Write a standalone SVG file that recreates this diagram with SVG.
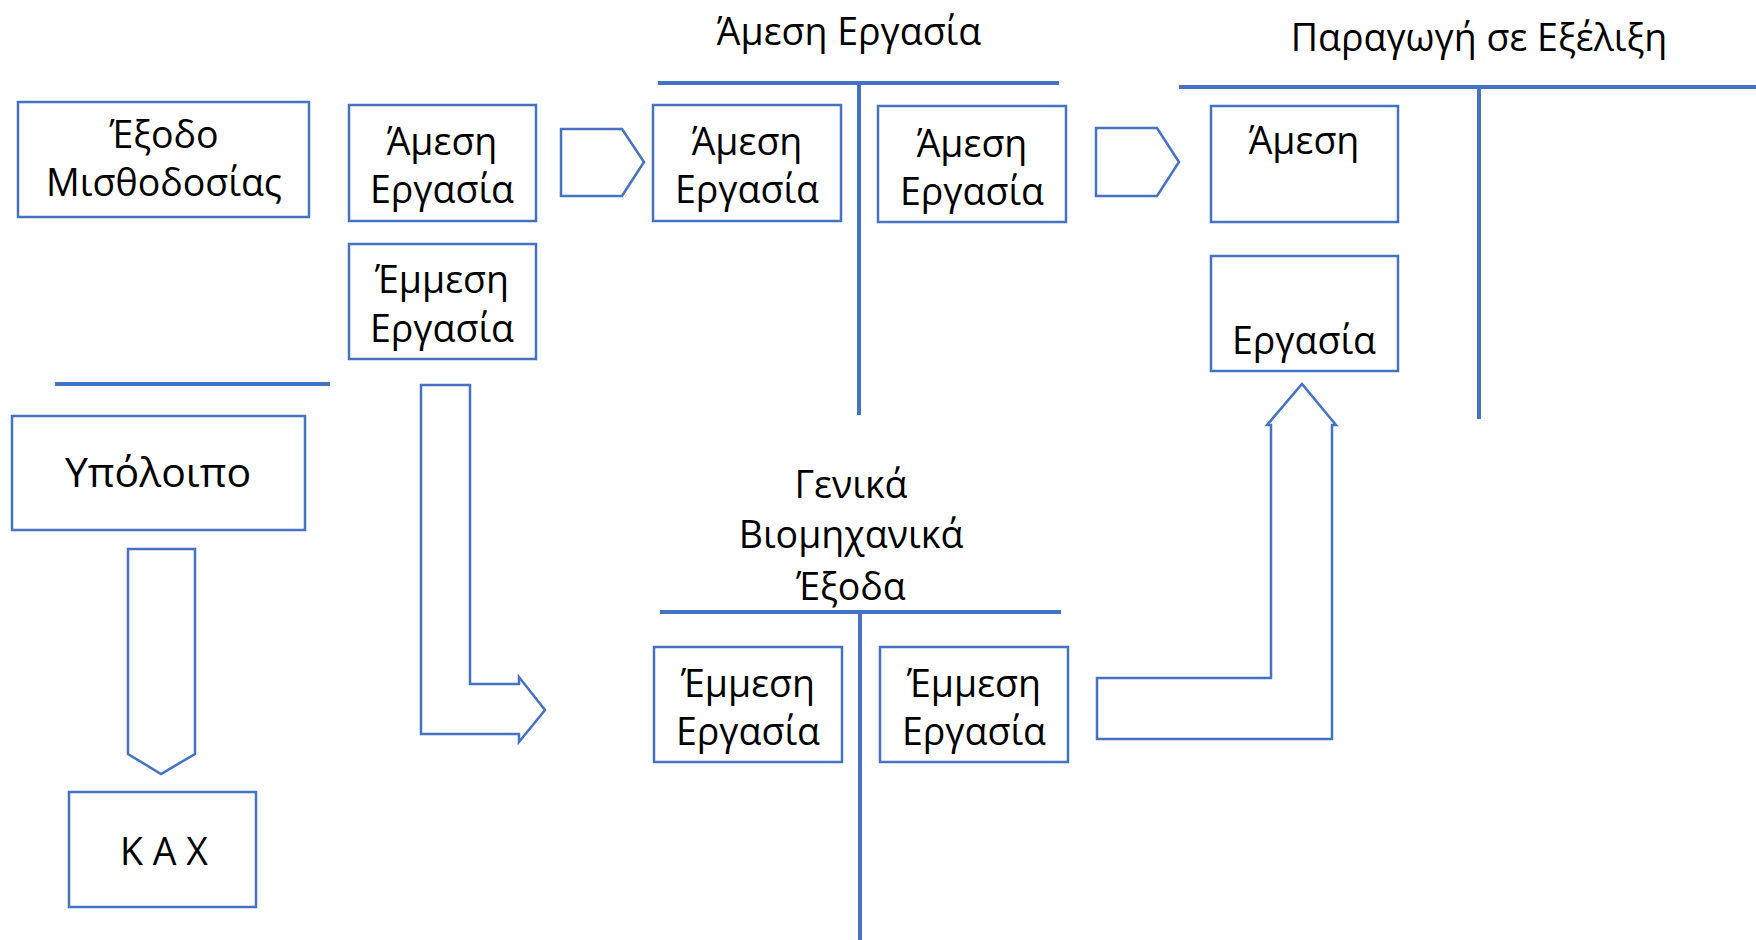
<svg xmlns="http://www.w3.org/2000/svg" width="1756" height="940" viewBox="0 0 1756 940">
<style>
  .box { fill: #ffffff; stroke: #4472C4; stroke-width: 2.5; }
  .arr { fill: #ffffff; stroke: #4472C4; stroke-width: 2.5; stroke-linejoin: miter; }
  .ln { stroke: #4472C4; stroke-width: 4; fill: none; }
  text { font-family: "Open Sans", "Noto Sans", "DejaVu Sans", sans-serif; font-size: 37.5px; fill: #000000; text-anchor: middle; }
</style>
<rect width="1756" height="940" fill="#ffffff"/>
<g id="connectors">
  <line class="ln" x1="55" y1="384" x2="330" y2="384"/>
  <line class="ln" x1="658" y1="83" x2="1059" y2="83"/>
  <line class="ln" x1="859" y1="83" x2="859" y2="415"/>
  <line class="ln" x1="1179" y1="87" x2="1756" y2="87"/>
  <line class="ln" x1="1479" y1="87" x2="1479" y2="419"/>
  <line class="ln" x1="660" y1="612" x2="1061" y2="612"/>
  <line class="ln" x1="860" y1="612" x2="860" y2="940"/>
  <polygon class="arr" points="561,129 622,129 644,162 622,196 561,196"/>
  <polygon class="arr" points="1096,128 1157,128 1179,162 1157,196 1096,196"/>
  <polygon class="arr" points="128,549 195,549 195,754 161,774 128,754"/>
  <polygon class="arr" points="421,385 470,385 470,684 519,684 519,677 545,710 519,742 519,734 421,734"/>
  <polygon class="arr" points="1097,678 1271,678 1271,425 1267,425 1302,384 1336,425 1332,425 1332,739 1097,739"/>
</g>
<g id="title-amesi">
  <text x="849" y="45">Άμεση Εργασία</text>
</g>
<g id="title-paragogi">
  <text x="1479" y="51">Παραγωγή σε Εξέλιξη</text>
</g>
<g id="title-genika">
  <text x="851" y="498">Γενικά</text>
  <text x="851" y="548">Βιομηχανικά</text>
  <text x="851" y="600">Έξοδα</text>
</g>
<g id="node-misthodosia">
  <rect class="box" x="18" y="102" width="291" height="115"/>
  <text x="164" y="148">Έξοδο</text>
  <text x="164" y="196">Μισθοδοσίας</text>
</g>
<g id="node-amesi-1">
  <rect class="box" x="349" y="105" width="187" height="116"/>
  <text x="442" y="155">Άμεση</text>
  <text x="442" y="203">Εργασία</text>
</g>
<g id="node-emmesi-1">
  <rect class="box" x="349" y="244" width="187" height="115"/>
  <text x="442" y="293">Έμμεση</text>
  <text x="442" y="342">Εργασία</text>
</g>
<g id="node-ypoloipo">
  <rect class="box" x="12" y="416" width="293" height="114"/>
  <text x="158" y="487" style="font-size:41px">Υπόλοιπο</text>
</g>
<g id="node-kax">
  <rect class="box" x="69" y="792" width="187" height="115"/>
  <text x="164" y="865">Κ Α Χ</text>
</g>
<g id="node-amesi-2">
  <rect class="box" x="653" y="105" width="188" height="116"/>
  <text x="747" y="155">Άμεση</text>
  <text x="747" y="203">Εργασία</text>
</g>
<g id="node-amesi-3">
  <rect class="box" x="878" y="106" width="188" height="116"/>
  <text x="972" y="157">Άμεση</text>
  <text x="972" y="205">Εργασία</text>
</g>
<g id="node-amesi-4">
  <rect class="box" x="1211" y="106" width="187" height="116"/>
  <text x="1304" y="154">Άμεση</text>
</g>
<g id="node-ergasia-4">
  <rect class="box" x="1211" y="256" width="187" height="115"/>
  <text x="1304" y="354">Εργασία</text>
</g>
<g id="node-emmesi-2">
  <rect class="box" x="654" y="647" width="188" height="115"/>
  <text x="748" y="697">Έμμεση</text>
  <text x="748" y="745">Εργασία</text>
</g>
<g id="node-emmesi-3">
  <rect class="box" x="880" y="647" width="188" height="115"/>
  <text x="974" y="697">Έμμεση</text>
  <text x="974" y="745">Εργασία</text>
</g>
</svg>
